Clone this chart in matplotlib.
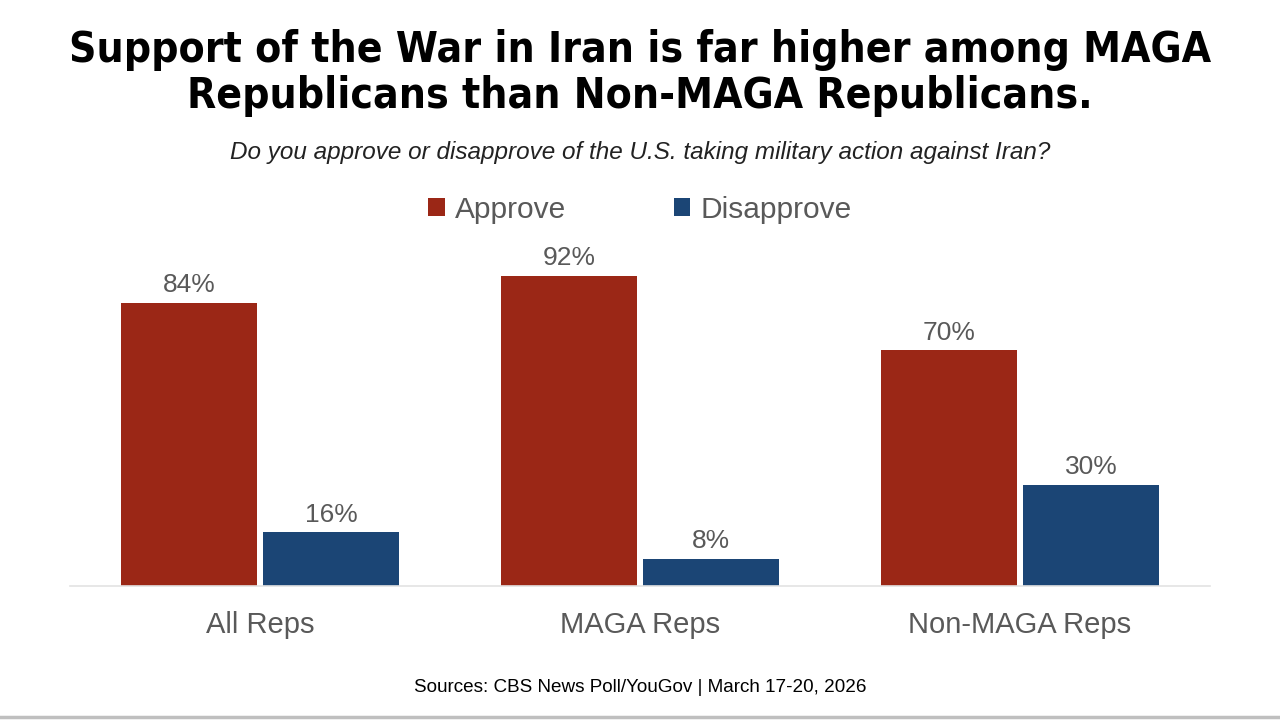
import matplotlib
matplotlib.use('Agg')
import matplotlib.pyplot as plt
import numpy as np

# Data
groups = ['All Reps', 'MAGA Reps', 'Non-MAGA Reps']
approve = [84, 92, 70]
disapprove = [16, 8, 30]

title = 'Support of the War in Iran is far higher among MAGA\nRepublicans than Non-MAGA Republicans.'
subtitle = 'Do you approve or disapprove of the U.S. taking military action against Iran?'
source = 'Sources: CBS News Poll/YouGov | March 17-20, 2026'

red = '#9B2716'
blue = '#1B4575'
grey_txt = '#595959'

plt.rcParams['font.family'] = ['Liberation Sans', 'DejaVu Sans']

fig = plt.figure(figsize=(12.8, 7.2), dpi=100)
ax = fig.add_axes([70/1280, (720-586)/720, 1140/1280, 337/720])

x = np.arange(len(groups))
w = 0.358
off = 0.187
b1 = ax.bar(x - off, approve, w, color=red, label='Approve')
b2 = ax.bar(x + off, disapprove, w, color=blue, label='Disapprove')

for bars, vals in [(b1, approve), (b2, disapprove)]:
    for b, v in zip(bars, vals):
        ax.annotate(f'{v}%', (b.get_x() + b.get_width()/2, v),
                    xytext=(0, 4), textcoords='offset points',
                    ha='center', va='bottom', fontsize=19, color=grey_txt)

ax.set_xlim(-0.5, 2.5)
ax.set_ylim(0, 100)
ax.set_yticks([])
ax.set_xticks(x)
ax.set_xticklabels(groups, fontsize=21, color=grey_txt)
ax.tick_params(axis='x', length=0, pad=18)
for s in ['top', 'right', 'left']:
    ax.spines[s].set_visible(False)
ax.spines['bottom'].set_color('#E3E3E3')
ax.spines['bottom'].set_linewidth(1.2)

# legend
leg = fig.legend(loc='center', bbox_to_anchor=(0.5, 1 - 210/720), ncol=2,
                 frameon=False, fontsize=21.5, handlelength=0.55, handleheight=0.55,
                 handletextpad=0.35, columnspacing=3.6, labelcolor=grey_txt)

# title, fitted to width
t = fig.text(0.5, 1 - 73/720, title, ha='center', va='center', fontsize=40,
             fontweight='bold', family=['Liberation Sans Narrow', 'DejaVu Sans'],
             fontstretch='condensed', linespacing=1.12, color='black')
fig.canvas.draw()
bb = t.get_window_extent()
t.set_fontsize(40 * 1140 / bb.width)

fig.text(0.5, 1 - 153/720, subtitle, ha='center', va='center', fontsize=17.5,
         style='italic', color='#222222')
fig.text(0.5, 1 - 687/720, source, ha='center', va='center', fontsize=13.6,
         color='black')

# bottom rule
fig.add_artist(plt.Line2D([0, 1], [1 - 717/720, 1 - 717/720], color='#BFBFBF', lw=2.5))

fig.savefig('out.png', dpi=100, facecolor='white')
